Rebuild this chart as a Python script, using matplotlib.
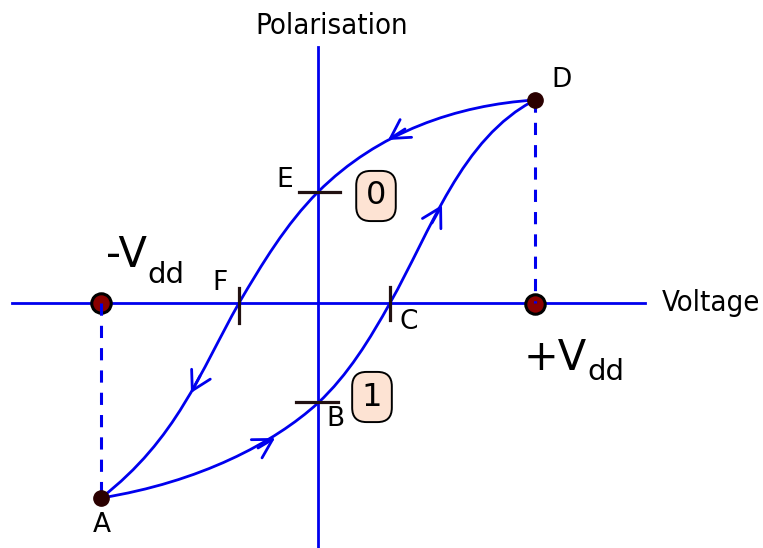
import matplotlib.pyplot as plt
from matplotlib.path import Path
from matplotlib.patches import PathPatch

# key points of the loop (units: pixels from the origin)
pt_names = ["A", "B", "C", "D", "E", "F"]
pt_x = [-217, 0, 72, 217, 0, -79]
pt_y = [-195, -100, 0, 203, 111, 0]
vdd = 217

# cubic bezier nodes: upper branch D -> E -> F -> A, lower branch A -> B -> C -> D
upper_x = [217, 139, 60, 0, -32, -56, -79, -118, -141, -217]
upper_y = [203, 198, 171, 111, 79, 39, 0, -69, -136, -195]
lower_x = [-217, -118, -44, 0, 30, 52, 72, 113, 143, 217]
lower_y = [-195, -179, -140, -100, -72, -36, 0, 72, 165, 203]

# arrow heads (tail, tip)
arr_tail = [(87, 174), (-118, -73), (-60, -145), (114, 80)]
arr_tip = [(70, 163), (-127, -90), (-43, -135), (124, 98)]

blue = "#0000ee"
dark = "#221111"

fig = plt.figure(figsize=(7.63, 5.48), dpi=100)
ax = fig.add_axes([0, 0, 1, 1])
ax.set_xlim(-318, 445)
ax.set_ylim(-245, 303)
ax.axis("off")

# axes
ax.plot([-306, 327], [0, 0], color=blue, lw=2.0, zorder=1)
ax.plot([0, 0], [-245, 256], color=blue, lw=2.0, zorder=1)

codes = [Path.MOVETO] + [Path.CURVE4] * 9
for xs, ys in [(upper_x, upper_y), (lower_x, lower_y)]:
    p = Path(list(zip(xs, ys)), codes)
    ax.add_patch(PathPatch(p, fill=False, edgecolor=blue, lw=2.0, zorder=2))

for t, h in zip(arr_tail, arr_tip):
    ax.annotate("", xy=h, xytext=t,
                arrowprops=dict(arrowstyle="->,head_length=0.7,head_width=0.4",
                                color=blue, lw=2.0, mutation_scale=19,
                                shrinkA=0, shrinkB=0))

# Vdd markers and dashed drops
ax.plot([-vdd, vdd], [0, -1], "o", ms=14, mfc="#8b0000", mec="black", mew=2.2, zorder=3)
ax.plot([-vdd, -vdd], [0, pt_y[0]], color=blue, lw=2.2, ls=(0, (4, 3.3)), zorder=4)
ax.plot([vdd, vdd], [pt_y[3], 0], color=blue, lw=2.2, ls=(0, (4, 3.3)), zorder=4)
ax.plot([pt_x[0], pt_x[3]], [pt_y[0], pt_y[3]], "o", ms=11, color="#2a0000", zorder=5, ls="none")

# crossing ticks
ax.plot([-19, 22], [111, 111], color=dark, lw=2.3, zorder=3)
ax.plot([-22, 20], [-99, -99], color=dark, lw=2.3, zorder=3)
ax.plot([-79, -79], [15, -20], color=dark, lw=2.3, zorder=3)
ax.plot([72, 72], [16, -17], color=dark, lw=2.3, zorder=3)

# point labels
offs = {"A": (1, -27), "B": (17, -16), "C": (19, -19), "D": (27, 20),
        "E": (-33, 12), "F": (-19, 20)}
for n, x, y in zip(pt_names, pt_x, pt_y):
    dx, dy = offs[n]
    ax.text(x + dx, y + dy, n, fontsize=19, ha="center", va="center")

box = dict(boxstyle="round,pad=0.3,rounding_size=0.45", fc="#fde3d3", ec="black", lw=1.4)
ax.text(58, 107, "0", fontsize=23, ha="center", va="center", bbox=box)
ax.text(54, -94, "1", fontsize=23, ha="center", va="center", bbox=box)

ax.text(-171, 36, "-V", fontsize=30, ha="right", va="baseline")
ax.text(-171, 20, "dd", fontsize=21, ha="left", va="baseline")
ax.text(269, -67, "+V", fontsize=30, ha="right", va="baseline")
ax.text(269, -77, "dd", fontsize=21, ha="left", va="baseline")

ax.text(344, 0, "Voltage", fontsize=21, fontstretch="condensed", ha="left", va="center")
ax.text(14, 277, "Polarisation", fontsize=21, fontstretch="condensed", ha="center", va="center")

fig.savefig("out.png", dpi=100)
